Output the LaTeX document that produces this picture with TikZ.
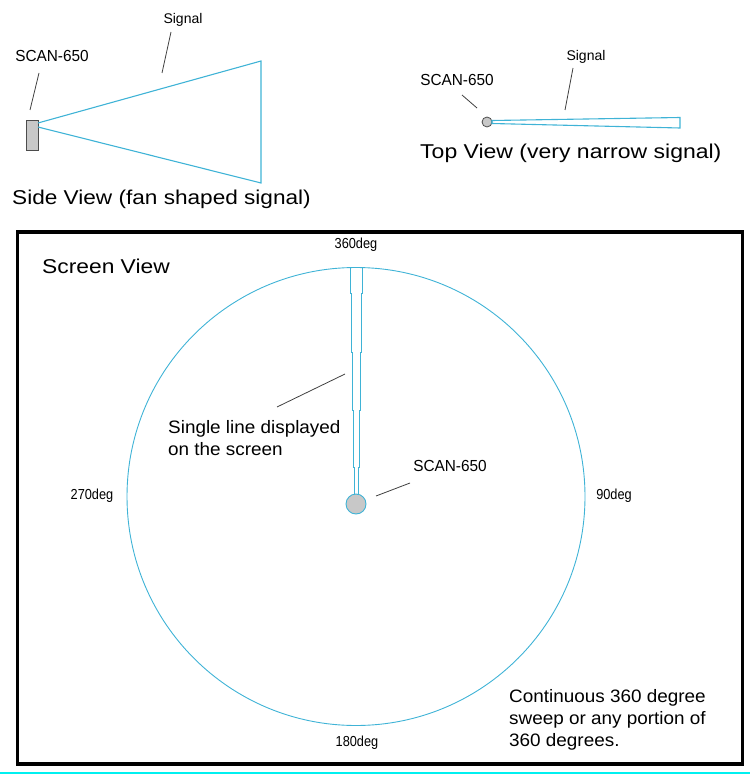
\documentclass[tikz,border=0pt]{standalone}
\usepackage{fontspec}
\setmainfont{Liberation Sans}
\definecolor{beamc}{HTML}{3FB3D6}
\definecolor{grayf}{HTML}{C8C8C8}
\definecolor{cyanl}{HTML}{00F0F0}
\begin{document}
\begin{tikzpicture}[x=1pt,y=-1pt,
  small/.style={font=\fontsize{14}{16}\selectfont, inner sep=0pt},
  scanlbl/.style={font=\fontsize{16}{18}\selectfont, inner sep=0pt},
  deglbl/.style={font=\fontsize{14.5}{16}\selectfont, inner sep=0pt},
  big/.style={font=\fontsize{20}{23}\selectfont, inner sep=0pt},
  mid/.style={font=\fontsize{18}{22}\selectfont, inner sep=0pt, align=left},
  beam/.style={draw=beamc, line width=1.1pt},
  leader/.style={draw=black!75, line width=0.8pt},
  dev/.style={draw=black!70, fill=grayf, line width=0.8pt}]
\useasboundingbox (0,0) rectangle (750,778);
% ---------- Side view ----------
\node[dev, rectangle, minimum width=12pt, minimum height=30pt, inner sep=0pt] (sdev) at (32,135) {};
\coordinate (sa1) at (38,123);
\coordinate (sa2) at (38,127);
\coordinate (sf1) at (261,61);
\coordinate (sf2) at (261,183);
\draw[beam] (sa1) -- (sf1) -- (sf2) -- (sa2);
\node[scanlbl] (sscan) at (52,56) {\scalebox{0.96}[1]{SCAN-650}};
\coordinate (sscanA) at (39,73);
\coordinate (sscanB) at (30,110);
\draw[leader] (sscanA) -- (sscanB);
\node[small] (ssig) at (183,20) {Signal};
\coordinate (ssigA) at (171,32);
\coordinate (ssigB) at (162,73);
\draw[leader] (ssigA) -- (ssigB);
\node[big, anchor=west] (stitle) at (12,199) {\scalebox{1.13}[1]{Side View (fan shaped signal)}};
% ---------- Top view ----------
\node[dev, circle, minimum size=10pt, inner sep=0pt] (tdev) at (487,122) {};
\coordinate (tb1) at (492,120.5);
\coordinate (tb2) at (680,117.5);
\coordinate (tb3) at (680,128);
\coordinate (tb4) at (492,123.5);
\draw[beam] (tb1) -- (tb2) -- (tb3) -- (tb4) -- cycle;
\node[scanlbl] (tscan) at (457,80) {\scalebox{0.96}[1]{SCAN-650}};
\coordinate (tscanA) at (462,95);
\coordinate (tscanB) at (477,108);
\draw[leader] (tscanA) -- (tscanB);
\node[small] (tsig) at (586,57) {Signal};
\coordinate (tsigA) at (573,68);
\coordinate (tsigB) at (565,110);
\draw[leader] (tsigA) -- (tsigB);
\node[big, anchor=west] (ttitle) at (420,153) {\scalebox{1.15}[1]{Top View (very narrow signal)}};
% ---------- Screen view ----------
\node[draw=black, line width=3.5pt, rectangle, minimum width=725pt, minimum height=532pt, inner sep=0pt] (frame) at (380,498) {};
\node[big, anchor=west] (scrtitle) at (42,266) {\scalebox{1.14}[1]{Screen View}};
\node[circle, draw=beamc, line width=0.9pt, minimum size=458pt, inner sep=0pt] (scope) at (356,496.5) {};
\draw[beam, line width=0.9pt] (350,267) -- (350,293) -- (351,293) -- (351,352) -- (352,352) -- (352,410) -- (353,410) -- (353,467) -- (354,467) -- (354,494)
  -- (358,494) -- (358,467) -- (359,467) -- (359,410) -- (360,410) -- (360,352) -- (361,352) -- (361,293) -- (362,293) -- (362,267);
\node[circle, draw=beamc, fill=grayf, line width=0.9pt, minimum size=20pt, inner sep=0pt] (cdev) at (356,504) {};
\node[deglbl] (d360) at (356,245) {\scalebox{0.88}[1]{360deg}};
\node[deglbl] (d270) at (92,496) {\scalebox{0.88}[1]{270deg}};
\node[deglbl] (d90) at (614,496) {\scalebox{0.88}[1]{90deg}};
\node[deglbl] (d180) at (357,743) {\scalebox{0.88}[1]{180deg}};
\node[mid, anchor=north west] (single) at (168,420) {\scalebox{1.05}[1]{Single line displayed}\\\scalebox{1.05}[1]{on the screen}};
\coordinate (singA) at (277,407);
\coordinate (singB) at (345,374);
\draw[leader] (singA) -- (singB);
\node[scanlbl] (cscan) at (450,466) {\scalebox{0.96}[1]{SCAN-650}};
\coordinate (cscanA) at (376,496);
\coordinate (cscanB) at (410,483);
\draw[leader] (cscanA) -- (cscanB);
\node[mid, anchor=north west] (cont) at (509,689) {\scalebox{1.05}[1]{Continuous 360 degree}\\\scalebox{1.05}[1]{sweep or any portion of}\\\scalebox{1.05}[1]{360 degrees.}};
% bottom cyan rule
\coordinate (rl) at (0,773);
\coordinate (rr) at (750,773);
\draw[cyanl, line width=1.5pt] (rl) -- (rr);
\end{tikzpicture}
\end{document}
